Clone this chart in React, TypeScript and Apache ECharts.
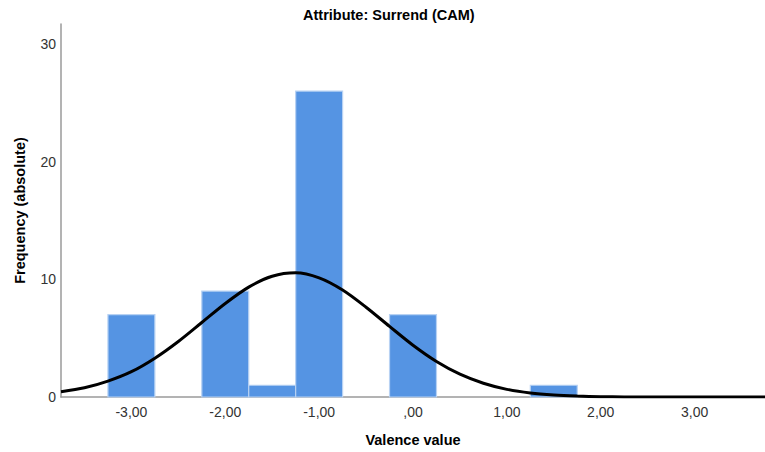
import React, { useEffect, useRef } from "react";
import * as echarts from "echarts";

const binCenters = [-3, -2, -1.5, -1, 0, 1.5];
const binCounts = [7, 9, 1, 26, 7, 1];
const binWidth = 0.5;

const curveX = [
  -3.75, -3.5, -3.25, -3, -2.75, -2.5, -2.25, -2, -1.75, -1.5, -1.25, -1, -0.75, -0.5, -0.25, 0,
  0.25, 0.5, 0.75, 1, 1.25, 1.5, 1.75, 2, 2.25, 2.5, 2.75, 3, 3.25, 3.5, 3.75,
];
const curveY = [
  0.45, 0.78, 1.35, 2.15, 3.3, 4.72, 6.33, 7.95, 9.34, 10.26, 10.55, 10.12, 9.09, 7.63, 6.0, 4.4,
  3.02, 1.94, 1.17, 0.65, 0.34, 0.17, 0.08, 0.03, 0.01, 0, 0, 0, 0, 0, 0,
];

const xTickValues = [-3, -2, -1, 0, 1, 2, 3];
const yTickValues = [0, 10, 20, 30];

const fmtX = (v: number) => (v === 0 ? ",00" : v.toFixed(2).replace(".", ","));

export default function App() {
  const ref = useRef<HTMLDivElement>(null);
  useEffect(() => {
    if (!ref.current) return;
    const chart = echarts.init(ref.current, undefined, { renderer: "svg" });
    const font = "'Liberation Sans', Arial, sans-serif";
    chart.setOption({
      animation: false,
      textStyle: { fontFamily: font },
      title: {
        text: "Attribute: Surrend (CAM)",
        left: 303,
        top: 7,
        padding: 0,
        textStyle: { fontFamily: font, fontSize: 14.5, fontWeight: "bold", color: "#000" },
      },
      grid: { left: 61, right: 0, top: 24, bottom: 55 },
      xAxis: {
        type: "value",
        min: -3.75,
        max: 3.75,
        name: "Valence value",
        nameLocation: "middle",
        nameGap: 35,
        nameTextStyle: { fontFamily: font, fontSize: 14.5, fontWeight: "bold", color: "#000" },
        axisLine: { show: true, onZero: false, lineStyle: { color: "#9a9a9a", width: 1.5 } },
        axisTick: { show: false },
        splitLine: { show: false },
        axisLabel: {
          customValues: xTickValues,
          formatter: fmtX,
          fontFamily: font,
          fontSize: 14,
          color: "#333",
          margin: 8,
        },
      },
      yAxis: {
        type: "value",
        min: 0,
        max: 31.7,
        name: "Frequency (absolute)",
        nameLocation: "middle",
        nameGap: 34,
        nameTextStyle: { fontFamily: font, fontSize: 14.5, fontWeight: "bold", color: "#000" },
        axisLine: { show: true, onZero: false, lineStyle: { color: "#9a9a9a", width: 1.5 } },
        axisTick: { show: false },
        splitLine: { show: false },
        axisLabel: {
          customValues: yTickValues,
          fontFamily: font,
          fontSize: 14,
          color: "#333",
          margin: 5,
        },
      },
      series: [
        {
          type: "custom",
          data: binCenters.map((c, i) => [c, binCounts[i]]),
          renderItem: (params: any, api: any) => {
            const x = api.value(0);
            const y = api.value(1);
            const p0 = api.coord([x - binWidth / 2, y]);
            const p1 = api.coord([x + binWidth / 2, 0]);
            return {
              type: "rect",
              shape: { x: p0[0], y: p0[1], width: p1[0] - p0[0], height: p1[1] - p0[1] },
              style: { fill: "#5594e3", stroke: "#b8d2f3", lineWidth: 1.2 },
            };
          },
          z: 2,
        },
        {
          type: "line",
          data: curveX.map((x, i) => [x, curveY[i]]),
          smooth: 0.3,
          showSymbol: false,
          symbol: "none",
          lineStyle: { color: "#000", width: 3 },
          z: 3,
        },
      ],
    });
    return () => chart.dispose();
  }, []);
  return (
    <div
      ref={ref}
      style={{ position: "absolute", left: 0, top: 0, width: 765, height: 452, background: "#fff" }}
    />
  );
}
